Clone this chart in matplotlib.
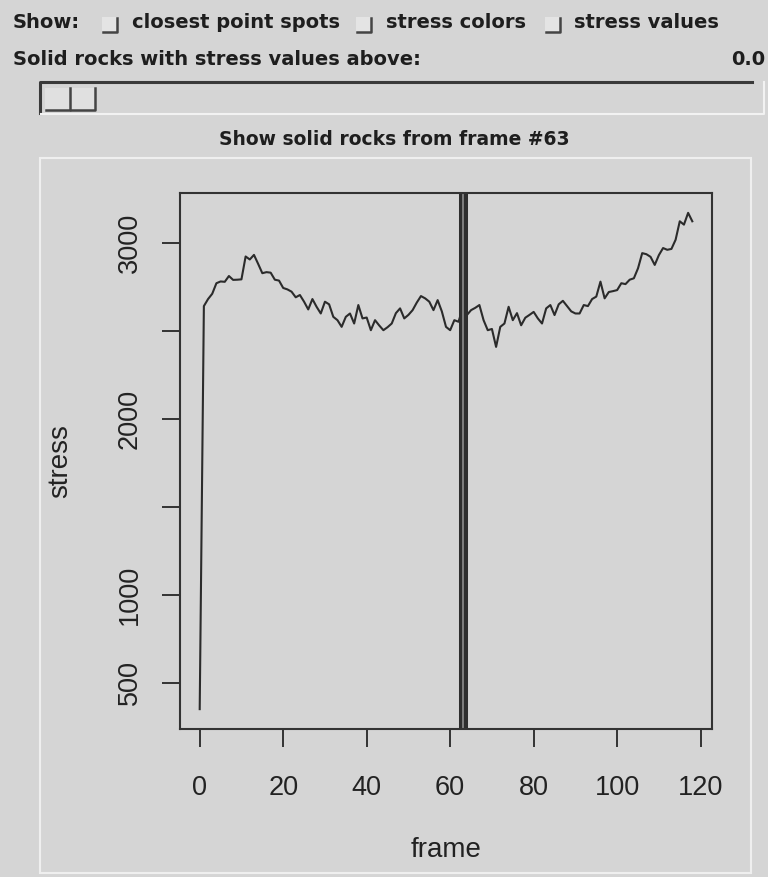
import matplotlib
matplotlib.use("Agg")
import matplotlib.pyplot as plt
from matplotlib.patches import Rectangle

# stress per frame
frames = list(range(0, 119))
stress = [
    349, 2640, 2680, 2710, 2770, 2780, 2778, 2811, 2789, 2790,
    2792, 2922, 2905, 2931, 2880, 2827, 2833, 2830, 2790, 2785,
    2743, 2735, 2722, 2690, 2703, 2665, 2621, 2680, 2636, 2598,
    2665, 2650, 2579, 2560, 2522, 2579, 2598, 2541, 2646, 2570,
    2575, 2503, 2560, 2530, 2503, 2520, 2541, 2600, 2627, 2570,
    2590, 2617, 2660, 2697, 2684, 2665, 2617, 2674, 2610, 2522,
    2503, 2560, 2551, 2628, 2589, 2617, 2630, 2646, 2560, 2503,
    2510, 2408, 2522, 2541, 2636, 2560, 2600, 2531, 2574, 2590,
    2607, 2570, 2541, 2627, 2646, 2589, 2650, 2670, 2640, 2610,
    2598, 2598, 2646, 2640, 2680, 2694, 2779, 2684, 2720, 2725,
    2731, 2770, 2765, 2790, 2798, 2855, 2941, 2935, 2920, 2874,
    2930, 2970, 2960, 2965, 3017, 3122, 3103, 3170, 3122,
]
current_frame = 63
x_ticks = [0, 20, 40, 60, 80, 100, 120]
y_ticks = [500, 1000, 1500, 2000, 2500, 3000]
y_tick_labels = ["500", "1000", "", "2000", "", "3000"]

BG = "#d5d5d5"
INK = "#2b2b2b"
W, H = 768, 877

fig = plt.figure(figsize=(W / 100, H / 100), dpi=100, facecolor=BG)

# overlay in pixel coordinates for the widget bits
ui = fig.add_axes([0, 0, 1, 1])
ui.set_xlim(0, W)
ui.set_ylim(H, 0)
ui.axis("off")

bold = dict(family="DejaVu Sans", weight="bold", color="#1e1e1e", va="baseline")


def checkbox(x, y, s=15):
    ui.add_patch(Rectangle((x, y), s, s, facecolor="#e4e4e4", edgecolor="none"))
    ui.plot([x + 1, x + s, x + s], [y + s, y + s, y + 1], color="#444444", lw=1.8)


ui.text(13, 28, "Show:", fontsize=14, **bold)
checkbox(102, 17)
ui.text(132, 28, "closest point spots", fontsize=14, **bold)
checkbox(356, 17)
ui.text(386, 28, "stress colors", fontsize=14, **bold)
checkbox(545, 17)
ui.text(574, 28, "stress values", fontsize=14, **bold)
ui.text(13, 65, "Solid rocks with stress values above:", fontsize=14, **bold)
ui.text(731, 65, "0.0", fontsize=14, **bold)

# slider trough (sunken) and handle (raised)
ui.plot([40, 40, 752], [113, 82, 82], color="#3a3a3a", lw=2.2)
ui.plot([41, 764, 764], [114, 114, 82], color="#f2f2f2", lw=1.5)
for hx in (45, 70):
    ui.add_patch(Rectangle((hx, 88), 25, 22, facecolor="#e0e0e0", edgecolor="none"))
    ui.plot([hx + 1, hx + 25, hx + 25], [110, 110, 88], color="#444444", lw=1.8)

ui.text(394, 145, "Show solid rocks from frame #%d" % current_frame,
        ha="center", fontsize=13.5, **bold)

# light panel frame around the plot
ui.add_patch(Rectangle((40, 158), 711, 715, facecolor="none", edgecolor="#efefef", lw=1.5))

# the plot itself
ax = fig.add_axes([180 / W, (H - 729) / H, 532 / W, 536 / H])
ax.set_facecolor("none")
ax.plot(frames, stress, color=INK, lw=1.5)
ax.margins(x=0.04, y=0.04)
ax.axvline(current_frame, color="#2e2e2e", lw=6.5, clip_on=False, solid_capstyle="butt")
ax.axvline(current_frame, color="#8c8c8c", lw=1.2, clip_on=False, solid_capstyle="butt")

for sp in ax.spines.values():
    sp.set_color("#333333")
    sp.set_linewidth(1.5)

tick_font = dict(family="Liberation Sans", size=19.5)
ax.set_xticks(x_ticks)
ax.set_xticklabels([str(t) for t in x_ticks], fontdict=tick_font, color="#222222")
ax.set_yticks(y_ticks)
ax.set_yticklabels(y_tick_labels, fontdict=tick_font, color="#222222", rotation=90, va="center")
ax.tick_params(direction="out", length=13, width=1.4, color="#333333")
ax.tick_params(axis="x", pad=20)
ax.tick_params(axis="y", pad=14)

ax.set_xlabel("frame", family="Liberation Sans", fontsize=20, color="#222222")
ax.set_ylabel("stress", family="Liberation Sans", fontsize=20, color="#222222")
ax.xaxis.set_label_coords(0.5, (729 - 850) / 536)
ax.xaxis.label.set_va("center")
ax.yaxis.set_label_coords((60 - 180) / 532, 0.5)
ax.yaxis.label.set_va("center")

fig.savefig("out.png", dpi=100, facecolor=BG)
